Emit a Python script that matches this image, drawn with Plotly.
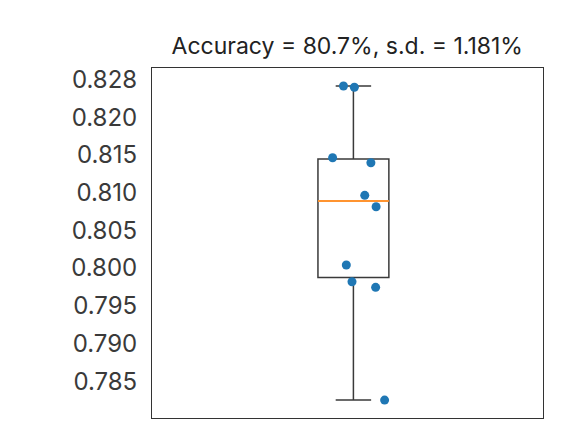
import numpy as np
import plotly.graph_objects as go

# accuracy of each run
accuracy = [0.82414, 0.82397, 0.81463, 0.81397, 0.80964,
            0.80813, 0.80040, 0.79818, 0.79744, 0.78249]
# jittered x position of each point
jitter_x = [0.979, 1.002, 0.956, 1.037, 1.024,
            1.048, 0.985, 0.997, 1.047, 1.066]

tick_vals = [0.825, 0.820, 0.815, 0.810, 0.805, 0.800, 0.795, 0.790, 0.785]
tick_text = ['0.828', '0.820', '0.815', '0.810', '0.805', '0.800', '0.795', '0.790', '0.785']

title = 'Accuracy = 80.7%, s.d. = 1.181%'

box_pos = 1.0
box_width = 0.15

# box stats the matplotlib way (numpy linear percentiles, 1.5 IQR whiskers)
acc = np.array(accuracy)
q1, median, q3 = np.percentile(acc, [25, 50, 75])
iqr = q3 - q1
low = acc[acc >= q1 - 1.5 * iqr].min()
high = acc[acc <= q3 + 1.5 * iqr].max()

fig = go.Figure()

# the box itself
fig.add_trace(go.Box(
    x=[box_pos],
    q1=[q1], median=[median], q3=[q3],
    lowerfence=[low], upperfence=[high],
    width=box_width,
    whiskerwidth=0.5,
    boxpoints=False,
    fillcolor='rgba(0,0,0,0)',
    line=dict(color='#3a3a3a', width=1.5),
    hoverinfo='y',
))

# orange median line like matplotlib
fig.add_trace(go.Scatter(
    x=[box_pos - box_width / 2, box_pos + box_width / 2],
    y=[median, median],
    mode='lines',
    line=dict(color='#ff9430', width=2),
    hoverinfo='skip',
))

# the points
fig.add_trace(go.Scatter(
    x=jitter_x,
    y=accuracy,
    mode='markers',
    marker=dict(color='#1f77b4', size=9),
))

# page body adds an 8px margin, so margins are shifted to keep the frame in place
fig.update_layout(
    width=575,
    height=446,
    template='plotly_white',
    showlegend=False,
    plot_bgcolor='white',
    paper_bgcolor='white',
    font=dict(family='Inter', size=17, color='#222222'),
    title=dict(text=title, x=0.59, xanchor='center', y=0.915, yanchor='middle',
               font=dict(size=23, color='#222222')),
    margin=dict(l=144, r=40, t=60, b=36),
    xaxis=dict(
        range=[0.574, 1.401],
        showticklabels=False,
        showgrid=False,
        zeroline=False,
        showline=True,
        mirror=True,
        linecolor='#333333',
        linewidth=1,
        ticks='',
    ),
    yaxis=dict(
        range=[0.78011, 0.82653],
        tickvals=tick_vals,
        ticktext=tick_text,
        showgrid=False,
        zeroline=False,
        showline=True,
        mirror=True,
        linecolor='#333333',
        linewidth=1,
        ticks='outside',
        ticklen=9,
        tickcolor='rgba(0,0,0,0)',
        tickfont=dict(size=24, color='#3a3a3a'),
    ),
)

fig.write_html('out.html')
